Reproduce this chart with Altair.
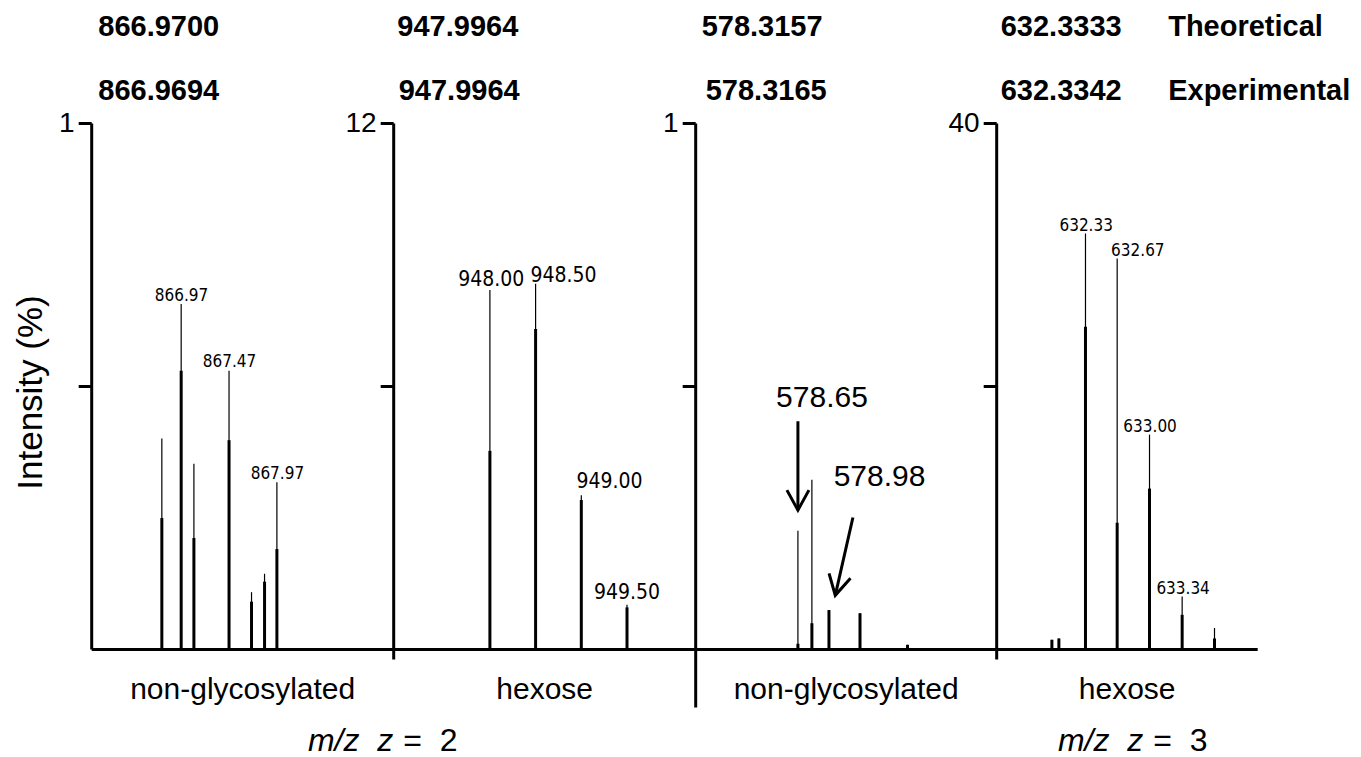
import altair as alt
import pandas as pd

FONT = "Liberation Sans"
NARROW = "Liberation Sans Narrow, DejaVu Sans Condensed, sans-serif"
PANEL_H = 526

# ---------------- data ----------------
y_max = [1, 12, 1, 40]
x_domains = [[866.030, 869.185], [946.942, 950.246], [577.591, 580.694], [631.397, 634.124]]
panel_w = [302, 302, 301, 261]
x_titles = ["non-glycosylated", "hexose", "non-glycosylated", "hexose"]

p1_mz = [866.768, 866.970, 867.103, 867.470, 867.705, 867.841, 867.970]
p1_int = [0.400, 0.656, 0.352, 0.529, 0.108, 0.143, 0.317]
p1_core = [0.249, 0.529, 0.211, 0.397, 0.090, 0.128, 0.190]
p1_lbl = ["866.97", "867.47", "867.97"]
p1_lbl_mz = [866.973, 867.475, 867.975]
p1_lbl_int = [0.662, 0.536, 0.323]

p2_mz = [948.00, 948.50, 949.00, 949.50]
p2_int = [8.19, 8.33, 3.51, 1.01]
p2_core = [4.52, 7.30, 3.40, 0.95]
p2_lbl = ["948.00", "948.50", "949.00", "949.50"]
p2_lbl_mz = [948.014, 948.805, 949.308, 949.500]
p2_lbl_int = [8.28, 8.38, 3.67, 1.14]

p3_mz = [578.650, 578.794, 578.970, 579.290, 579.780]
p3_int = [0.225, 0.322, 0.074, 0.068, 0.008]
p3_core = [0.010, 0.049, 0.074, 0.068, 0.008]
p3_lbl = ["578.65", "578.98"]
p3_lbl_mz = [578.898, 579.491]
p3_lbl_int = [0.461, 0.310]
arrow_x = [578.650, 579.217]
arrow_y = [0.433, 0.250]
arrow_x2 = [578.650, 579.035]
arrow_y2 = [0.264, 0.102]
arrow_angle = [0, 13]

p4_mz = [631.979, 632.052, 632.330, 632.661, 632.999, 633.340, 633.678]
p4_int = [0.7, 0.8, 31.6, 29.7, 16.3, 4.0, 1.6]
p4_core = [0.7, 0.8, 24.5, 9.6, 12.2, 2.6, 0.8]
p4_lbl = ["632.33", "632.67", "633.00", "633.34"]
p4_lbl_mz = [632.337, 632.877, 633.005, 633.350]
p4_lbl_int = [31.8, 29.9, 16.5, 4.2]

theoretical = ["866.9700", "947.9964", "578.3157", "632.3333"]
experimental = ["866.9694", "947.9964", "578.3165", "632.3342"]
theo_mz = [866.736, 947.649, 578.281, 632.076]
expt_mz = [866.736, 947.664, 578.323, 632.076]
row_words = ["Theoretical", "Experimental"]
words_mz = 633.194
# annotation rows expressed as fraction of the panel's axis height
THEO_ROW = 1.1816
EXPT_ROW = 1.061
BOTTOM_ROW = -0.193
charge_text = ["=\u00a0\u00a02", "=\u00a0\u00a03"]
charge_mz = [946.997, 632.985]
charge_panel = [1, 3]


def panel(i, mz, inten, core, lbl, lbl_mz, lbl_int, lbl_font, lbl_size):
    ymax = y_max[i]
    xdom = x_domains[i]
    xs = alt.Scale(domain=xdom, nice=False, zero=False)
    ys = alt.Scale(domain=[0, ymax], nice=False, zero=False)
    tick = [0, 10, 58, 10][i]
    xaxis_kw = dict(
        title=x_titles[i], values=[xdom[0]], labels=False, ticks=tick > 0,
        tickSize=max(tick, 1), tickWidth=3, tickColor="black",
        domainWidth=3, domainColor="black", grid=False,
        titleFont=FONT, titleFontSize=30, titleFontWeight="normal",
        titleColor="black", titleY=41, titleBaseline="middle",
    )
    yaxis_kw = dict(
        values=[ymax / 2, ymax],
        labelExpr=f"datum.value >= {ymax * 0.999} ? '{ymax}' : ''",
        tickSize=13, tickWidth=3, tickColor="black",
        domainWidth=3, domainColor="black", grid=False,
        labelFont=FONT, labelFontSize=28, labelColor="black", labelPadding=4,
    )
    if i == 0:
        yaxis_kw.update(title="Intensity (%)", titleFont=FONT, titleFontSize=35,
                        titleFontWeight="normal", titleColor="black",
                        titleX=-50, titleY=269, titleBaseline="alphabetic")
    else:
        yaxis_kw.update(title=None)
    xaxis = alt.Axis(**xaxis_kw)
    yaxis = alt.Axis(**yaxis_kw)

    def X(f):
        return alt.X(f, type="quantitative", scale=xs, axis=xaxis)

    def Y(f):
        return alt.Y(f, type="quantitative", scale=ys, axis=yaxis)

    peaks = pd.DataFrame({"mz": mz, "intensity": inten, "core": core, "base": [0.0] * len(mz)})
    thin = alt.Chart(peaks).mark_rule(color="black", strokeWidth=1.2).encode(
        x=X("mz"), y=Y("intensity"), y2="base:Q")
    thick = alt.Chart(peaks).mark_rule(color="black", strokeWidth=3).encode(
        x=X("mz"), y=Y("core"), y2="base:Q")

    labels = pd.DataFrame({"mz": lbl_mz, "intensity": lbl_int, "text": lbl})
    lbl_layer = alt.Chart(labels).mark_text(
        font=lbl_font, fontSize=lbl_size, color="black", align="center",
        baseline="alphabetic").encode(x=X("mz"), y=Y("intensity"), text="text:N")

    hdr = pd.DataFrame({
        "mz": [theo_mz[i], expt_mz[i]],
        "intensity": [THEO_ROW * ymax, EXPT_ROW * ymax],
        "text": [theoretical[i], experimental[i]],
    })
    hdr_layer = alt.Chart(hdr).mark_text(
        font=FONT, fontSize=29, fontWeight="bold", color="black",
        align="center", baseline="middle").encode(x=X("mz"), y=Y("intensity"), text="text:N")

    layers = [thin, thick, lbl_layer, hdr_layer]

    if i == 2:
        arr = pd.DataFrame({"mz": arrow_x, "intensity": arrow_y, "mz2": arrow_x2,
                            "y2": arrow_y2, "angle": arrow_angle})
        shaft = alt.Chart(arr).mark_rule(color="black", strokeWidth=3).encode(
            x=X("mz"), y=Y("intensity"), x2="mz2:Q", y2="y2:Q")
        head = alt.Chart(arr).mark_point(
            shape="M -0.55 -1 L 0 0 L 0.55 -1", filled=False, size=1600,
            strokeWidth=3, color="black", opacity=1, strokeJoin="miter").encode(
            x=alt.X("mz2", type="quantitative", scale=xs, axis=xaxis),
            y=alt.Y("y2", type="quantitative", scale=ys, axis=yaxis),
            angle=alt.Angle("angle:Q", scale=None))
        layers += [shaft, head]

    if i == 3:
        words = pd.DataFrame({"mz": [words_mz, words_mz],
                              "intensity": [THEO_ROW * ymax, EXPT_ROW * ymax],
                              "text": row_words})
        layers.append(alt.Chart(words).mark_text(
            font=FONT, fontSize=29, fontWeight="bold", color="black",
            align="left", baseline="middle").encode(x=X("mz"), y=Y("intensity"), text="text:N"))

    if i in charge_panel:
        k = charge_panel.index(i)
        ch = pd.DataFrame({"mz": [charge_mz[k]], "intensity": [BOTTOM_ROW * ymax],
                           "ital": ["m/z\u00a0\u00a0z"], "rest": [charge_text[k]]})
        layers.append(alt.Chart(ch).mark_text(
            font=FONT, fontSize=32, fontStyle="italic", color="black",
            align="right", baseline="alphabetic", dx=-5).encode(
            x=X("mz"), y=Y("intensity"), text="ital:N"))
        layers.append(alt.Chart(ch).mark_text(
            font=FONT, fontSize=32, color="black",
            align="left", baseline="alphabetic", dx=5).encode(
            x=X("mz"), y=Y("intensity"), text="rest:N"))

    return alt.layer(*layers).properties(width=panel_w[i], height=PANEL_H)


p1 = panel(0, p1_mz, p1_int, p1_core, p1_lbl, p1_lbl_mz, p1_lbl_int, NARROW, 17)
p2 = panel(1, p2_mz, p2_int, p2_core, p2_lbl, p2_lbl_mz, p2_lbl_int, NARROW, 21)
p3 = panel(2, p3_mz, p3_int, p3_core, p3_lbl, p3_lbl_mz, p3_lbl_int, FONT, 30)
p4 = panel(3, p4_mz, p4_int, p4_core, p4_lbl, p4_lbl_mz, p4_lbl_int, NARROW, 17)

chart = alt.hconcat(p1, p2, p3, p4, spacing=0, bounds="flush").properties(
    padding={"left": 4.2, "top": 4, "right": 0, "bottom": 0},
    background="white",
).configure_view(stroke="transparent")

chart.save("out.html", embed_options={"renderer": "svg", "actions": False})
